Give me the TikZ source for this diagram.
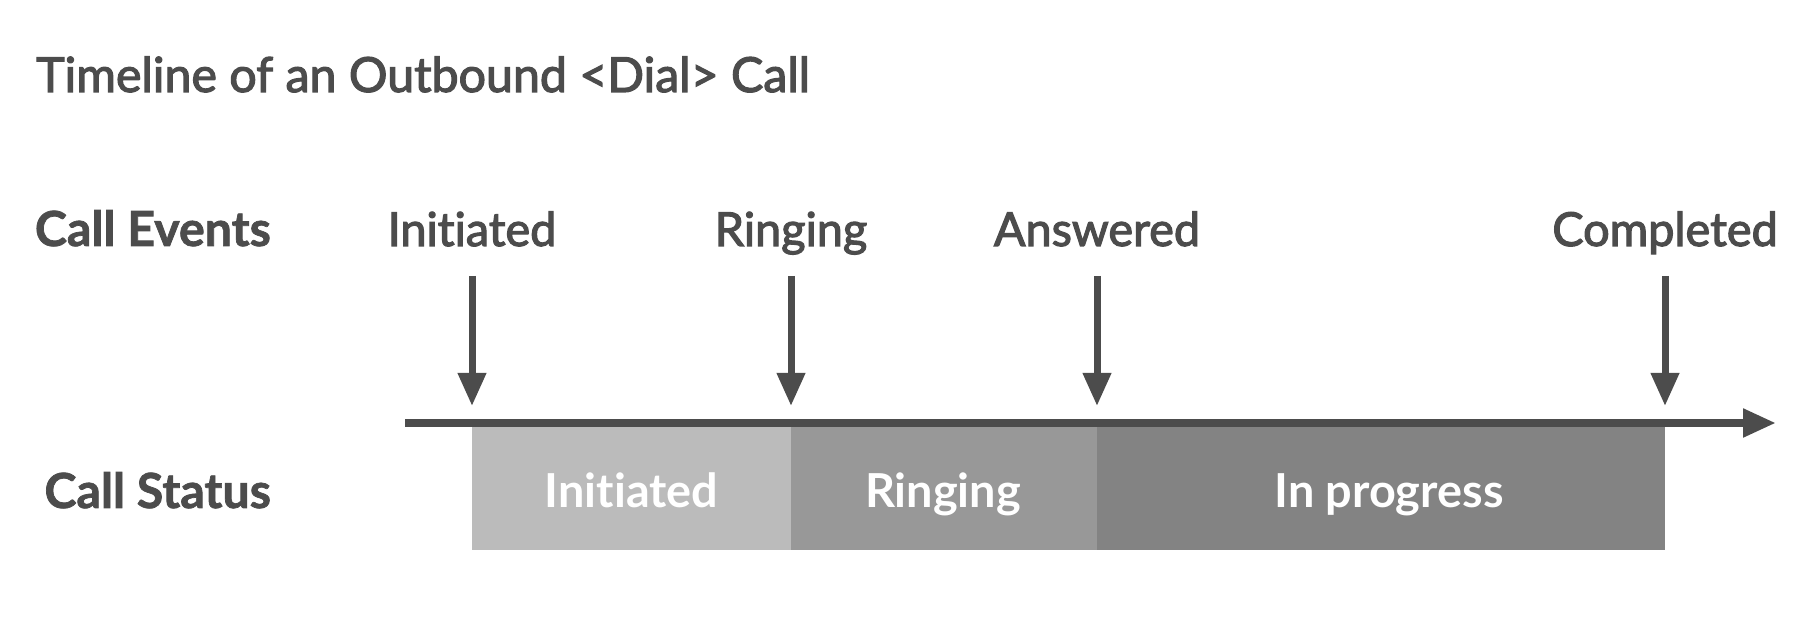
\documentclass[tikz,border=0pt]{standalone}
\usepackage{fontspec}
\setmainfont{Lato}[RawFeature={-liga;-clig;-calt}]
\newfontfamily\semifont{Lato}[RawFeature={-liga;-clig;-calt}, FakeBold=2.5]
\newfontfamily\heavyfont{Lato}[RawFeature={-liga;-clig;-calt}, BoldFeatures={FakeBold=1.5}]
\usepackage{xcolor}
\usetikzlibrary{arrows.meta}
\definecolor{tl_text}{HTML}{4C4C4C}
\definecolor{tl_init}{HTML}{BBBBBB}
\definecolor{tl_ring}{HTML}{989898}
\definecolor{tl_prog}{HTML}{838383}

\tikzset{
  rowlabel/.style={tl_text, font=\fontsize{48.5}{52}\heavyfont\bfseries, anchor=base east, inner sep=0pt},
  evlabel/.style={tl_text, font=\fontsize{47}{50}\semifont, anchor=base, inner sep=0pt},
  barlabel/.style={white, font=\fontsize{47}{50}\selectfont\bfseries, anchor=base, inner sep=0pt},
  evarrow/.style={tl_text, line width=7bp, -{Triangle[length=33bp, width=27bp]}},
  axisline/.style={tl_text, line width=8bp, -{Triangle[length=33bp, width=27bp]}}
}

\begin{document}
\begin{tikzpicture}[x=1bp, y=1bp]
    % Canvas: 1815 x 620
    \useasboundingbox (0,0) rectangle (1815,620);
    \fill[white] (0,0) rectangle (1815,620);

    % Title
    \node[tl_text, font=\fontsize{48.5}{52}\semifont, anchor=base west, inner sep=0pt] (title) at (36,528)
      {Timeline of an Outbound <Dial> Call};

    % Row labels
    \node[rowlabel] (rowEvents) at (271,374) {Call Events};
    \node[rowlabel] (rowStatus) at (271,112) {Call Status};

    % Status bars below the time axis
    \fill[tl_init] (472,70) rectangle (791,193);
    \fill[tl_ring] (791,70) rectangle (1097,193);
    \fill[tl_prog] (1097,70) rectangle (1665,193);
    \node[barlabel] (stInit) at (631.5,112) {Initiated};
    \node[barlabel] (stRing) at (943,112) {Ringing};
    \node[barlabel] (stProg) at (1389,112) {In progress};

    % Time axis
    \coordinate (axisStart) at (405,197);
    \coordinate (axisEnd) at (1776,197);
    \draw[axisline] (axisStart) -- (axisEnd);

    % Call events with arrows onto the axis
    \foreach \name/\x/\txt in {Init/472/Initiated, Ring/791/Ringing, Answ/1097/Answered, Comp/1665/Completed} {
      \node[evlabel] (ev\name) at (\x,374) {\txt};
      \coordinate (top\name) at (\x,344);
      \coordinate (tip\name) at (\x,214);
      \draw[evarrow] (top\name) -- (tip\name);
    }

\end{tikzpicture}
\end{document}
